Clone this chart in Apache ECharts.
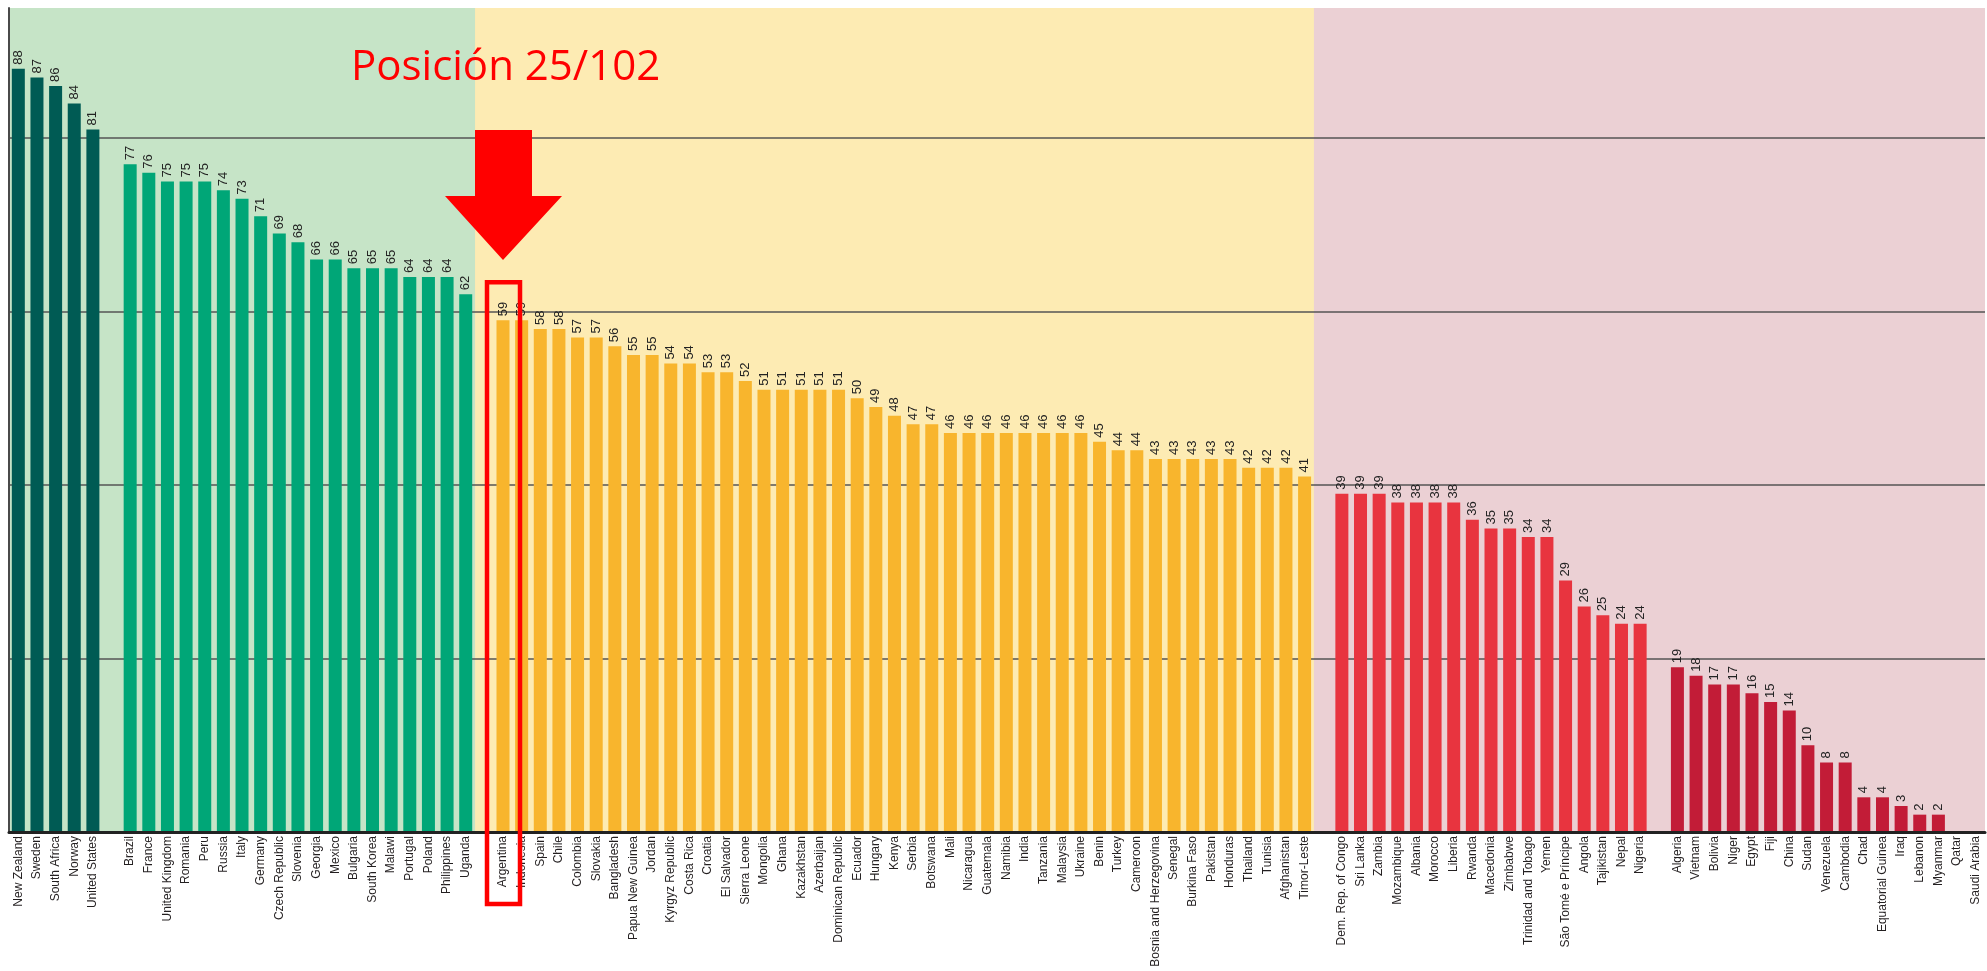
<!DOCTYPE html>
<html>
<head>
<meta charset="utf-8">
<title>Posición 25/102</title>
<script src="https://cdn.jsdelivr.net/npm/echarts@6.0.0/dist/echarts.min.js"></script>
<style>
  html, body { margin: 0; padding: 0; background: #fff; }
  #chart { width: 1987px; height: 971px; }
</style>
</head>
<body>
<div id="chart"></div>
<script>
// grupos de países, de mayor a menor puntuación
var namesTop = ['New Zealand', 'Sweden', 'South Africa', 'Norway', 'United States'];
var valuesTop = [88, 87, 86, 84, 81];

var namesHigh = ['Brazil', 'France', 'United Kingdom', 'Romania', 'Peru', 'Russia', 'Italy',
  'Germany', 'Czech Republic', 'Slovenia', 'Georgia', 'Mexico', 'Bulgaria', 'South Korea',
  'Malawi', 'Portugal', 'Poland', 'Philippines', 'Uganda'];
var valuesHigh = [77, 76, 75, 75, 75, 74, 73, 71, 69, 68, 66, 66, 65, 65, 65, 64, 64, 64, 62];

var namesMid = ['Argentina', 'Indonesia', 'Spain', 'Chile', 'Colombia', 'Slovakia', 'Bangladesh',
  'Papua New Guinea', 'Jordan', 'Kyrgyz Republic', 'Costa Rica', 'Croatia', 'El Salvador',
  'Sierra Leone', 'Mongolia', 'Ghana', 'Kazakhstan', 'Azerbaijan', 'Dominican Republic',
  'Ecuador', 'Hungary', 'Kenya', 'Serbia', 'Botswana', 'Mali', 'Nicaragua', 'Guatemala',
  'Namibia', 'India', 'Tanzania', 'Malaysia', 'Ukraine', 'Benin', 'Turkey', 'Cameroon',
  'Bosnia and Herzegovina', 'Senegal', 'Burkina Faso', 'Pakistan', 'Honduras', 'Thailand',
  'Tunisia', 'Afghanistan', 'Timor-Leste'];
var valuesMid = [59, 59, 58, 58, 57, 57, 56, 55, 55, 54, 54, 53, 53, 52, 51, 51, 51, 51, 51,
  50, 49, 48, 47, 47, 46, 46, 46, 46, 46, 46, 46, 46, 45, 44, 44, 43, 43, 43, 43, 43,
  42, 42, 42, 41];

var namesLow = ['Dem. Rep. of Congo', 'Sri Lanka', 'Zambia', 'Mozambique', 'Albania', 'Morocco',
  'Liberia', 'Rwanda', 'Macedonia', 'Zimbabwe', 'Trinidad and Tobago', 'Yemen',
  'São Tomé e Príncipe', 'Angola', 'Tajikistan', 'Nepal', 'Nigeria'];
var valuesLow = [39, 39, 39, 38, 38, 38, 38, 36, 35, 35, 34, 34, 29, 26, 25, 24, 24];

var namesBottom = ['Algeria', 'Vietnam', 'Bolivia', 'Niger', 'Egypt', 'Fiji', 'China', 'Sudan',
  'Venezuela', 'Cambodia', 'Chad', 'Equatorial Guinea', 'Iraq', 'Lebanon', 'Myanmar',
  'Qatar', 'Saudi Arabia'];
var valuesBottom = [19, 18, 17, 17, 16, 15, 14, 10, 8, 8, 4, 4, 3, 2, 2, 0, 0];

var highlight = 'Argentina';
var positionText = 'Posición 25/102';
var yMax = 95;

var groups = [
  { names: namesTop, values: valuesTop, color: '#005b54' },
  { names: namesHigh, values: valuesHigh, color: '#00a677' },
  { names: namesMid, values: valuesMid, color: '#f8b52d' },
  { names: namesLow, values: valuesLow, color: '#e8343f' },
  { names: namesBottom, values: valuesBottom, color: '#c21c37' }
];

// categorías con un hueco vacío entre grupos
var categories = [];
var barData = [];
var gaps = [];
groups.forEach(function (g, gi) {
  if (gi > 0) {
    var gapName = new Array(gi + 1).join(' ');
    gaps.push(gapName);
    categories.push(gapName);
    barData.push(null);
  }
  g.names.forEach(function (n, i) {
    categories.push(n);
    barData.push({ value: g.values[i], itemStyle: { color: g.color } });
  });
});

var narrow = "'Liberation Sans Narrow', 'Liberation Sans', Arial, sans-serif";

var myChart = echarts.init(document.getElementById('chart'));

var option = {
  animation: false,
  grid: { left: 9, right: 2, top: 8, bottom: 139, containLabel: false, outerBoundsMode: 'none' },
  xAxis: {
    type: 'category',
    data: categories,
    z: 4,
    axisLine: { lineStyle: { color: '#222', width: 3 } },
    axisTick: { show: false },
    axisLabel: {
      interval: 0,
      rotate: 90,
      margin: 4,
      fontFamily: narrow,
      fontSize: 12,
      color: '#231f20'
    }
  },
  yAxis: {
    type: 'value',
    min: 0,
    max: yMax,
    interval: 20,
    z: 2,
    axisLine: { show: true, lineStyle: { color: '#4a4a4a', width: 2 } },
    axisTick: { show: false },
    axisLabel: { show: false },
    splitLine: {
      showMaxLine: false,
      lineStyle: { color: '#555', width: 1.6 }
    }
  },
  series: [{
    type: 'bar',
    z: 3,
    barWidth: 13,
    data: barData,
    label: {
      show: true,
      position: 'top',
      rotate: 90,
      align: 'left',
      verticalAlign: 'middle',
      distance: 4,
      fontFamily: narrow,
      fontSize: 13,
      color: '#222',
      formatter: function (p) { return p.value > 0 ? p.value : ''; }
    },
    markArea: {
      z: 1,
      silent: true,
      label: { show: false },
      data: [
        [{ yAxis: 0, itemStyle: { color: '#c6e4c7' } }, { xAxis: gaps[1], yAxis: yMax }],
        [{ xAxis: gaps[1], yAxis: 0, itemStyle: { color: '#fdebb3' } }, { xAxis: gaps[2], yAxis: yMax }],
        [{ xAxis: gaps[2], yAxis: 0, itemStyle: { color: '#ebd0d4' } }, { yAxis: yMax }]
      ]
    }
  }]
};

myChart.setOption(option);

// anotaciones: flecha, recuadro y texto sobre Argentina
var hiValue = valuesMid[namesMid.indexOf(highlight)];
var cx = myChart.convertToPixel({ xAxisIndex: 0 }, highlight);
var baseY = myChart.convertToPixel({ yAxisIndex: 0 }, 0);
var barTop = myChart.convertToPixel({ yAxisIndex: 0 }, hiValue);

myChart.setOption({
  graphic: [
    {
      type: 'rect',
      z: 10,
      shape: { x: cx - 16, y: barTop - 38, width: 33, height: baseY + 72 - (barTop - 38) },
      style: { fill: 'none', stroke: '#ff0000', lineWidth: 4.5 }
    },
    {
      type: 'polygon',
      z: 10,
      shape: {
        points: [
          [cx - 28, 130], [cx + 29, 130], [cx + 29, 196], [cx + 59, 196],
          [cx, 260], [cx - 58, 196], [cx - 28, 196]
        ]
      },
      style: { fill: '#ff0000' }
    },
    {
      type: 'text',
      z: 10,
      x: cx - 152,
      y: 89,
      style: {
        text: positionText,
        fill: '#ff0000',
        fontFamily: "'Open Sans', 'Noto Sans', sans-serif",
        fontSize: 42,
        textVerticalAlign: 'bottom',
        verticalAlign: 'bottom'
      }
    }
  ]
});
</script>
</body>
</html>
